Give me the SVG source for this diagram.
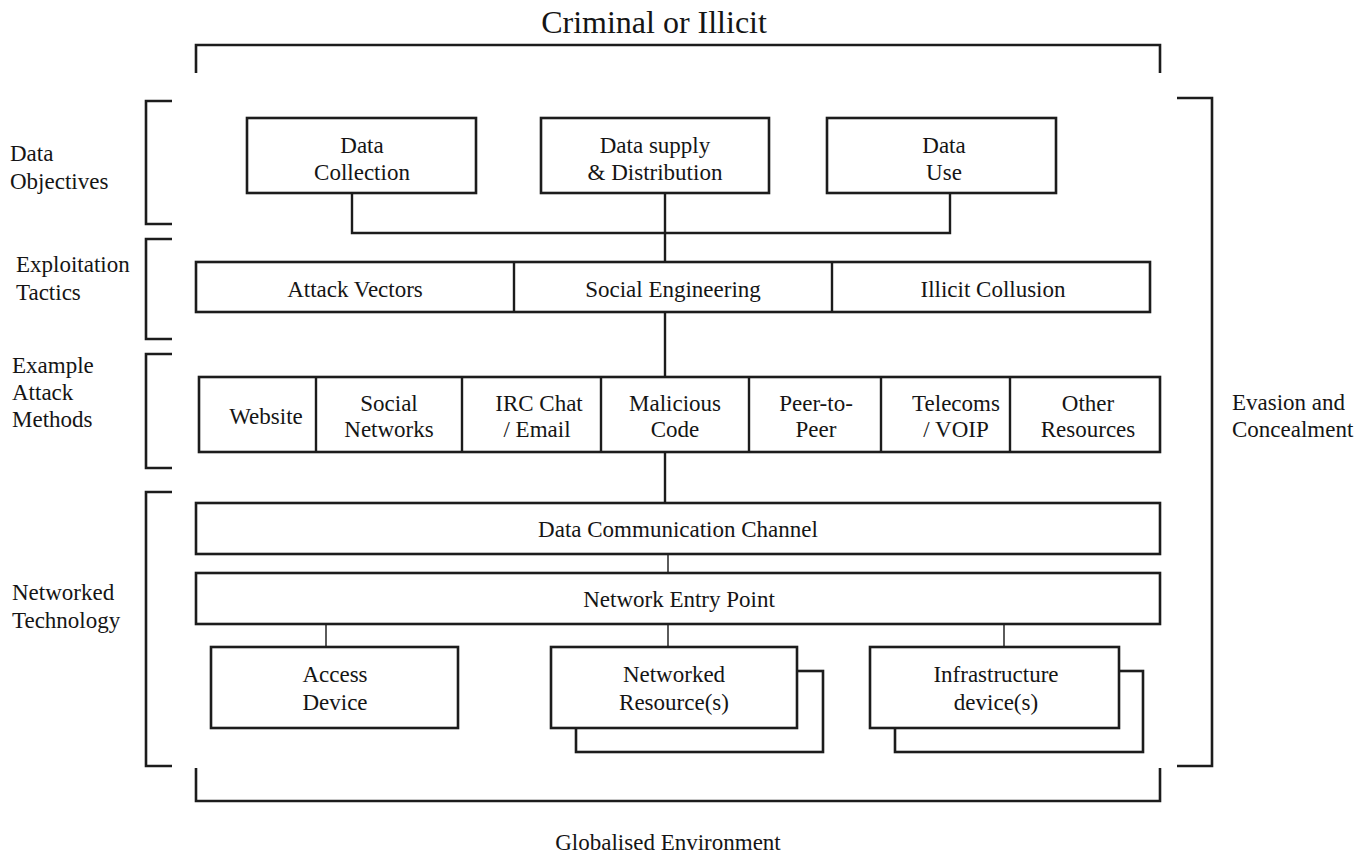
<svg xmlns="http://www.w3.org/2000/svg" width="1372" height="854" viewBox="0 0 1372 854">
<style>
  text { font-family: "Liberation Serif", "Times New Roman", serif; font-size: 23px; fill: #151515; }
  .c { text-anchor: middle; }
  .title { font-size: 32px; }
  .box { fill: #ffffff; stroke: #1c1c1c; stroke-width: 2.6; }
  .frame { fill: none; stroke: #1c1c1c; stroke-width: 2.6; }
  .link { fill: none; stroke: #1c1c1c; stroke-width: 2.4; }
  .thin { fill: none; stroke: #333333; stroke-width: 1.6; }
</style>

<g id="frames">
  <path class="frame" d="M196,73 V45 H1160 V73"/>
  <path class="frame" d="M196,768 V801 H1160 V768"/>
  <path class="frame" d="M1177,98 H1212 V766 H1177"/>
  <path class="frame" d="M172,101 H146 V224 H172"/>
  <path class="frame" d="M172,239 H146 V339 H172"/>
  <path class="frame" d="M172,354 H146 V468 H172"/>
  <path class="frame" d="M172,492 H146 V766 H172"/>
</g>

<g id="labels">
  <text class="c title" x="654" y="33">Criminal or Illicit</text>
  <text x="10" y="161">Data</text>
  <text x="10" y="189">Objectives</text>
  <text x="16" y="272">Exploitation</text>
  <text x="16" y="300">Tactics</text>
  <text x="12" y="373">Example</text>
  <text x="12" y="400">Attack</text>
  <text x="12" y="427">Methods</text>
  <text x="12" y="600">Networked</text>
  <text x="12" y="628">Technology</text>
  <text x="1232" y="410">Evasion and</text>
  <text x="1232" y="437">Concealment</text>
  <text class="c" x="668" y="850">Globalised Environment</text>
</g>

<g id="connectors">
  <path class="link" d="M352,193 V233 H950 V193"/>
  <path class="link" d="M665,193 V262"/>
  <path class="link" d="M665,312 V377"/>
  <path class="link" d="M665,446 V503"/>
  <path class="thin" d="M668,554 V573"/>
  <path class="thin" d="M326,624 V647"/>
  <path class="thin" d="M668,624 V647"/>
  <path class="thin" d="M1004,624 V647"/>
</g>

<g id="data-collection">
  <rect class="box" x="247" y="118" width="229" height="75"/>
  <text class="c" x="362" y="153">Data</text>
  <text class="c" x="362" y="180">Collection</text>
</g>
<g id="data-supply">
  <rect class="box" x="541" y="118" width="228" height="75"/>
  <text class="c" x="655" y="153">Data supply</text>
  <text class="c" x="655" y="180">&amp; Distribution</text>
</g>
<g id="data-use">
  <rect class="box" x="827" y="118" width="229" height="75"/>
  <text class="c" x="944" y="153">Data</text>
  <text class="c" x="944" y="180">Use</text>
</g>

<g id="exploitation-tactics">
  <rect class="box" x="196" y="262" width="954" height="50"/>
  <path class="link" d="M514,262 V312 M832,262 V312"/>
  <text class="c" x="355" y="297">Attack Vectors</text>
  <text class="c" x="673" y="297">Social Engineering</text>
  <text class="c" x="993" y="297">Illicit Collusion</text>
</g>

<g id="attack-methods">
  <rect class="box" x="199" y="377" width="961" height="75"/>
  <path class="link" d="M316,377 V452 M462,377 V452 M601,377 V452 M749,377 V452 M881,377 V452 M1010,377 V452"/>
  <text class="c" x="266" y="424">Website</text>
  <text class="c" x="389" y="411">Social</text>
  <text class="c" x="389" y="437">Networks</text>
  <text class="c" x="539" y="411">IRC Chat</text>
  <text class="c" x="537" y="437">/ Email</text>
  <text class="c" x="675" y="411">Malicious</text>
  <text class="c" x="675" y="437">Code</text>
  <text class="c" x="816" y="411">Peer-to-</text>
  <text class="c" x="816" y="437">Peer</text>
  <text class="c" x="956" y="411">Telecoms</text>
  <text class="c" x="956" y="437">/ VOIP</text>
  <text class="c" x="1088" y="411">Other</text>
  <text class="c" x="1088" y="437">Resources</text>
</g>

<g id="data-communication-channel">
  <rect class="box" x="196" y="503" width="964" height="51"/>
  <text class="c" x="678" y="537">Data Communication Channel</text>
</g>

<g id="network-entry-point">
  <rect class="box" x="196" y="573" width="964" height="51"/>
  <text class="c" x="679" y="607">Network Entry Point</text>
</g>

<g id="access-device">
  <rect class="box" x="211" y="647" width="247" height="81"/>
  <text class="c" x="335" y="682">Access</text>
  <text class="c" x="335" y="710">Device</text>
</g>

<g id="networked-resources">
  <rect class="box" x="576" y="671" width="247" height="81"/>
  <rect class="box" x="551" y="647" width="246" height="81"/>
  <text class="c" x="674" y="682">Networked</text>
  <text class="c" x="674" y="710">Resource(s)</text>
</g>

<g id="infrastructure-devices">
  <rect class="box" x="895" y="671" width="248" height="81"/>
  <rect class="box" x="870" y="647" width="249" height="81"/>
  <text class="c" x="996" y="682">Infrastructure</text>
  <text class="c" x="996" y="710">device(s)</text>
</g>
</svg>
